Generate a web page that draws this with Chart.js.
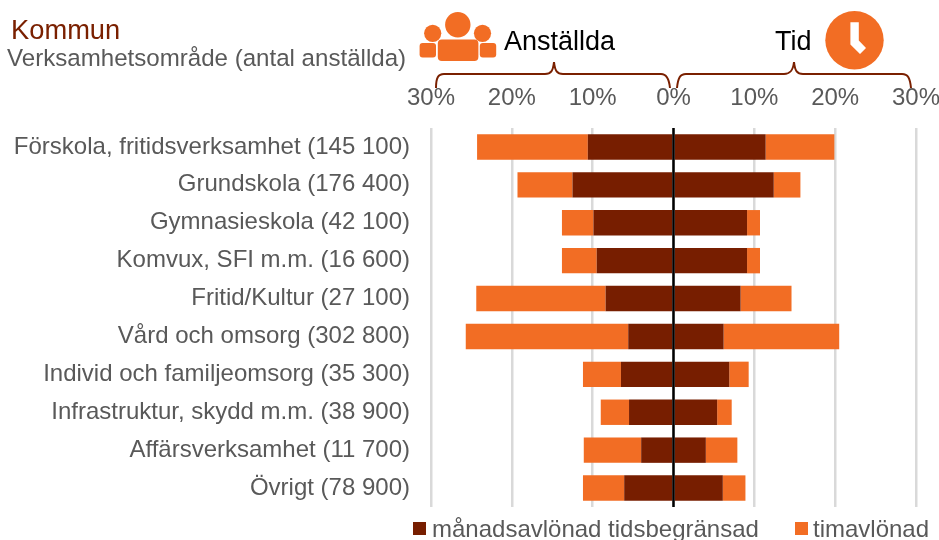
<!DOCTYPE html>
<html><head><meta charset="utf-8">
<script src="https://cdn.jsdelivr.net/npm/chart.js@4"></script>
<style>
html,body{margin:0;padding:0;background:#fff;width:939px;height:540px;overflow:hidden;font-family:"Liberation Sans",Arial,sans-serif}
#wrap{position:relative;width:939px;height:540px}
canvas{position:absolute;left:0;top:0}
.t{position:absolute;white-space:nowrap;line-height:1}
svg{position:absolute;left:0;top:0}
.box{position:absolute;width:13px;height:13px;top:522px}
</style></head><body>
<div id="wrap">
<canvas id="c" width="939" height="540"></canvas>
<svg width="939" height="130" viewBox="0 0 939 130">
<g fill="#f26d24">
<circle cx="432.7" cy="33.3" r="8.6"/><circle cx="457.8" cy="24.8" r="12.7"/><circle cx="482.5" cy="33.3" r="8.6"/>
<rect x="419.6" y="43" width="16.4" height="14.4" rx="3"/><rect x="479.8" y="43" width="16.4" height="14.4" rx="3"/>
<rect x="437.8" y="39.5" width="40.6" height="21.5" rx="4"/>
<circle cx="854.5" cy="40.2" r="29.2"/>
</g>
<path d="M850.4 22.3H858.8V40.5L866 48L860 54L850.4 44.5z" fill="#fff"/>
<g fill="none" stroke="#7a2000" stroke-width="2">
<path d="M436 88c0-10 2-14 8-14h101c6 0 8-3 9-12c1 9 3 12 9 12h98c5 0 8 4 9 14"/>
<path d="M677 88c1-10 3-14 9-14h98c6 0 9-3 10-12c1 9 3 12 9 12h99c6 0 8 4 9 14"/>
</g>
</svg>
<div class="t" style="left:11px;top:16px;font-size:27.3px;color:#7a2000">Kommun</div>
<div class="t" style="left:7px;top:46px;font-size:24.1px;color:#595959">Verksamhetsområde (antal anställda)</div>
<div class="t" style="left:504px;top:28px;font-size:27px;color:#000">Anställda</div>
<div class="t" style="left:775px;top:28px;font-size:27px;color:#000">Tid</div>
<div class="box" style="left:413px;background:#771e00"></div>
<div class="t" id="leg1" style="left:432px;top:517px;font-size:24px;color:#595959"></div>
<div class="box" style="left:795px;background:#f26d24"></div>
<div class="t" id="leg2" style="left:813px;top:517px;font-size:24px;color:#595959"></div>
</div>
<script>
const categories=["Förskola, fritidsverksamhet (145 100)","Grundskola (176 400)","Gymnasieskola (42 100)","Komvux, SFI m.m. (16 600)","Fritid/Kultur (27 100)","Vård och omsorg (302 800)","Individ och familjeomsorg (35 300)","Infrastruktur, skydd m.m. (38 900)","Affärsverksamhet (11 700)","Övrigt (78 900)"];
const anstalldaManad=[-10.6,-12.5,-9.9,-9.5,-8.4,-5.6,-6.5,-5.5,-4.0,-6.1];
const anstalldaTim=[-13.7,-6.8,-3.9,-4.3,-16.0,-20.1,-4.7,-3.5,-7.1,-5.1];
const tidManad=[11.4,12.4,9.1,9.1,8.3,6.2,6.9,5.4,4.0,6.1];
const tidTim=[8.5,3.3,1.6,1.6,6.3,14.3,2.4,1.8,3.9,2.8];
const xTicks=[-30,-20,-10,0,10,20,30];
const seriesNames=["månadsavlönad tidsbegränsad","timavlönad"];
const dark="#771e00",orange="#f26d24";
document.getElementById("leg1").textContent=seriesNames[0];
document.getElementById("leg2").textContent=seriesNames[1];
const common={stack:"s",barPercentage:0.67,categoryPercentage:1,borderWidth:0};
new Chart(document.getElementById("c"),{
 type:"bar",
 data:{labels:categories,datasets:[
  {label:seriesNames[0],data:anstalldaManad,backgroundColor:dark,...common},
  {label:seriesNames[1],data:anstalldaTim,backgroundColor:orange,...common},
  {label:seriesNames[0]+" tid",data:tidManad,backgroundColor:dark,...common},
  {label:seriesNames[1]+" tid",data:tidTim,backgroundColor:orange,...common}
 ]},
 options:{
  indexAxis:"y",responsive:false,animation:false,
  layout:{padding:{left:0,right:23,top:0,bottom:33}},
  plugins:{tooltip:{enabled:false},legend:{display:false}},
  scales:{
   x:{position:"top",stacked:true,min:-30,max:30,
    afterBuildTicks(s){s.ticks=xTicks.map(v=>({value:v}));},
    afterFit(s){s.height=128;s.paddingRight=0;s.paddingLeft=0;},
    border:{display:false},
    grid:{drawTicks:false,lineWidth:2.5,color:"#d9d9d9"},
    ticks:{color:"#595959",padding:15,maxRotation:0,font:{size:24,family:"Liberation Sans"},callback:v=>Math.abs(v)+"%"}
   },
   y:{stacked:true,
    afterFit(s){s.width=431;s.paddingTop=0;s.paddingBottom=0;},
    border:{display:false},
    grid:{display:false},
    ticks:{color:"#595959",padding:13,font:{size:24,family:"Liberation Sans"}}
   }
  }
 },
 plugins:[{id:"zeroLine",afterDatasetsDraw(ch){const c=ch.ctx,a=ch.chartArea,x=ch.scales.x.getPixelForValue(0);c.save();c.strokeStyle="#000";c.lineWidth=2.5;c.beginPath();c.moveTo(x,a.top);c.lineTo(x,a.bottom);c.stroke();c.restore();}}]
});
</script>
</body></html>
